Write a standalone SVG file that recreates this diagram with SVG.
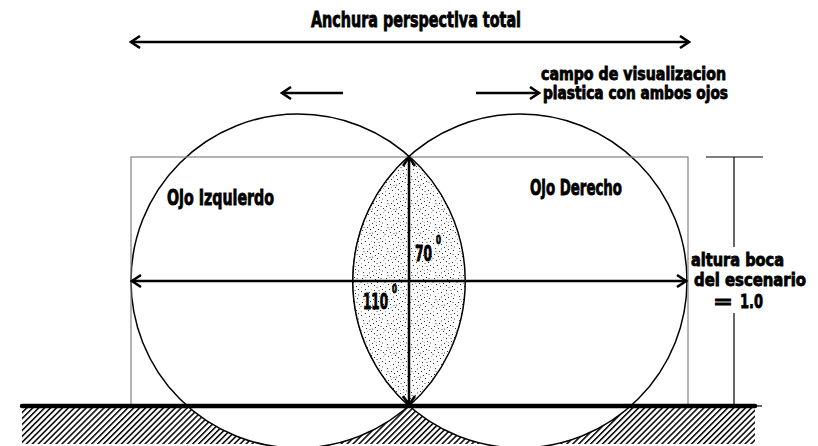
<svg xmlns="http://www.w3.org/2000/svg" width="818" height="446" viewBox="0 0 818 446">
<style>
.t{font-family:"DejaVu Sans","Liberation Sans",Arial,sans-serif;font-stretch:condensed;font-weight:bold;fill:#000;stroke:#000;stroke-width:0.8}
.arr{stroke:#000;stroke-width:2.5;fill:none}
.circ{stroke:#000;stroke-width:1.5;fill:#fff}
</style>
<defs>
<marker id="ah" viewBox="-11 -7 13 14" refX="0" refY="0" markerWidth="13" markerHeight="14" markerUnits="userSpaceOnUse" orient="auto-start-reverse">
<path d="M-9,-6 L0,0 L-9,6" fill="none" stroke="#000" stroke-width="2.5"/>
</marker>
<pattern id="hatch" width="4.2" height="4.2" patternUnits="userSpaceOnUse" patternTransform="rotate(45)">
<rect x="0" y="0" width="1.5" height="4.2" fill="#000"/>
</pattern>
<pattern id="stip" width="24" height="24" patternUnits="userSpaceOnUse">
<rect width="24" height="24" fill="#fcfcfc"/>
<g fill="#333">
<rect x="1" y="3" width="1" height="1"/><rect x="5" y="1" width="1" height="1"/><rect x="9" y="4" width="1" height="1"/><rect x="14" y="2" width="1" height="1"/><rect x="19" y="5" width="1" height="1"/><rect x="22" y="1" width="1" height="1"/><rect x="3" y="8" width="1" height="1"/><rect x="7" y="11" width="1" height="1"/><rect x="12" y="7" width="1" height="1"/><rect x="16" y="9" width="1" height="1"/><rect x="21" y="10" width="1" height="1"/><rect x="2" y="14" width="1" height="1"/><rect x="6" y="16" width="1" height="1"/><rect x="10" y="13" width="1" height="1"/><rect x="15" y="15" width="1" height="1"/><rect x="18" y="13" width="1" height="1"/><rect x="23" y="16" width="1" height="1"/><rect x="4" y="20" width="1" height="1"/><rect x="8" y="22" width="1" height="1"/><rect x="11" y="19" width="1" height="1"/><rect x="14" y="21" width="1" height="1"/><rect x="17" y="18" width="1" height="1"/><rect x="20" y="22" width="1" height="1"/><rect x="13" y="11" width="1" height="1"/>
</g>
<g fill="#aaa">
<rect x="0" y="18" width="2" height="1"/><rect x="9" y="8" width="1" height="2"/><rect x="18" y="2" width="2" height="1"/><rect x="6" y="5" width="1" height="1"/><rect x="22" y="6" width="1" height="2"/><rect x="3" y="11" width="2" height="1"/><rect x="11" y="1" width="1" height="1"/><rect x="16" y="6" width="1" height="1"/><rect x="20" y="14" width="2" height="1"/><rect x="7" y="19" width="1" height="1"/><rect x="12" y="16" width="1" height="2"/><rect x="1" y="23" width="1" height="1"/><rect x="16" y="23" width="2" height="1"/><rect x="23" y="20" width="1" height="1"/><rect x="5" y="13" width="1" height="1"/><rect x="19" y="8" width="1" height="1"/><rect x="9" y="17" width="2" height="1"/><rect x="14" y="5" width="1" height="1"/>
</g>
</pattern>
</defs>

<g id="ground">
<rect x="22" y="406" width="733" height="38" fill="url(#hatch)"/>
</g>

<g id="ojo-izquierdo">
<circle class="circ" cx="298" cy="281" r="167"/>
</g>
<g id="ojo-derecho">
<circle class="circ" cx="520" cy="281" r="167"/>
</g>
<g id="lens">
<path d="M409,156 A167,167 0 0,0 409,406 A167,167 0 0,0 409,156 Z" fill="url(#stip)" stroke="#000" stroke-width="1.5"/>
</g>

<g id="escenario">
<rect x="131" y="157" width="557" height="249" fill="none" stroke="#808080" stroke-width="1.2"/>
</g>

<g id="connectors">
<line class="arr" x1="131" y1="42" x2="689" y2="42" marker-start="url(#ah)" marker-end="url(#ah)"/>
<line class="arr" x1="282" y1="93" x2="343" y2="93" marker-start="url(#ah)"/>
<line class="arr" x1="476" y1="93" x2="539" y2="93" marker-end="url(#ah)"/>
<line class="arr" x1="132" y1="281" x2="686" y2="281" marker-start="url(#ah)" marker-end="url(#ah)"/>
<line class="arr" x1="409" y1="157" x2="409" y2="405" marker-start="url(#ah)" marker-end="url(#ah)"/>
<line x1="734" y1="157" x2="734" y2="247" stroke="#000" stroke-width="1.2"/>
<line x1="734" y1="313" x2="734" y2="406" stroke="#000" stroke-width="1.2"/>
<line x1="706" y1="157" x2="763" y2="157" stroke="#000" stroke-width="1.2"/>
<line x1="740" y1="406" x2="762" y2="406" stroke="#000" stroke-width="1.2"/>
<line x1="22" y1="406" x2="755" y2="406" stroke="#000" stroke-width="4.5" stroke-linecap="round"/>
</g>

<g id="labels">
<text class="t" x="311" y="27" font-size="21" textLength="210" lengthAdjust="spacingAndGlyphs">Anchura perspectiva total</text>
<text class="t" x="541" y="80" font-size="17" textLength="185" lengthAdjust="spacingAndGlyphs">campo de visualizacion</text>
<text class="t" x="543" y="99" font-size="17" textLength="185" lengthAdjust="spacingAndGlyphs">plastica con ambos ojos</text>
<text class="t" x="167" y="205" font-size="21" textLength="107" lengthAdjust="spacingAndGlyphs">Ojo Izquierdo</text>
<text class="t" x="530" y="195" font-size="21" textLength="92" lengthAdjust="spacingAndGlyphs">Ojo Derecho</text>
<text class="t" x="415" y="261" font-size="21" textLength="17" lengthAdjust="spacingAndGlyphs">70</text>
<text class="t" x="436" y="244" font-size="12" textLength="5" lengthAdjust="spacingAndGlyphs">0</text>
<text class="t" x="363" y="309" font-size="21" textLength="25" lengthAdjust="spacingAndGlyphs">110</text>
<text class="t" x="392" y="293" font-size="12" textLength="5" lengthAdjust="spacingAndGlyphs">0</text>
<text class="t" x="691" y="266" font-size="18" textLength="93" lengthAdjust="spacingAndGlyphs">altura boca</text>
<text class="t" x="694" y="286" font-size="18" textLength="112" lengthAdjust="spacingAndGlyphs">del escenario</text>
<text class="t" x="713" y="308" font-size="18" textLength="20" lengthAdjust="spacingAndGlyphs">=</text>
<text class="t" x="740" y="308" font-size="20" textLength="23" lengthAdjust="spacingAndGlyphs">1.0</text>
</g>
</svg>
